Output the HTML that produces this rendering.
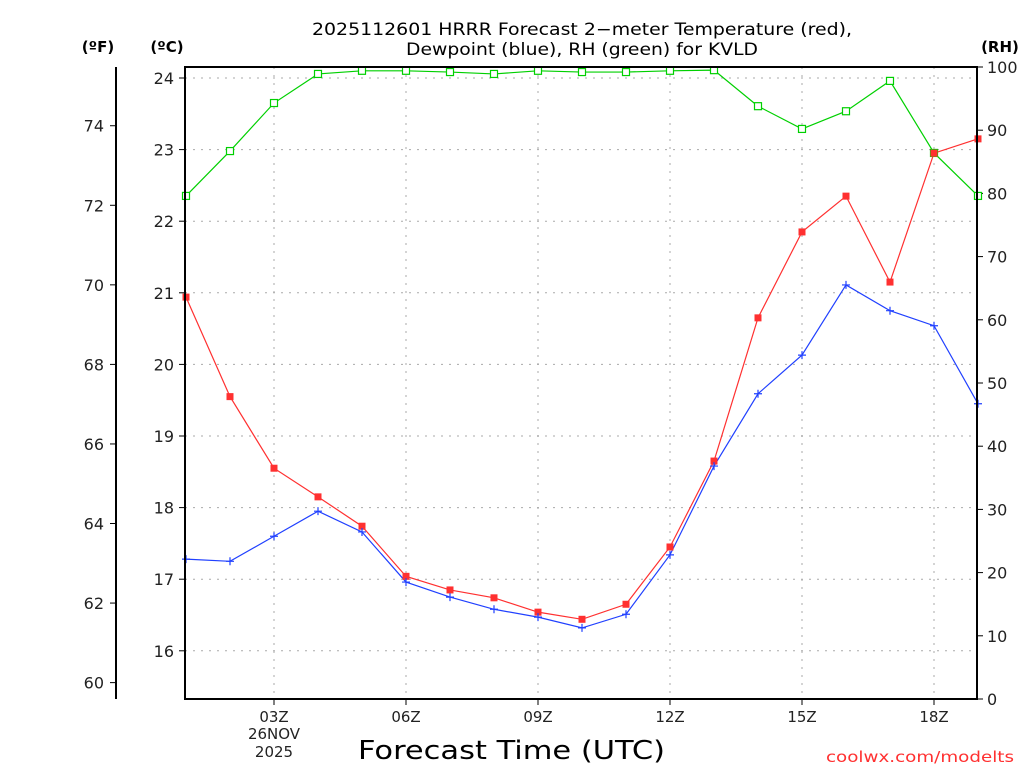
<!DOCTYPE html>
<html><head><meta charset="utf-8"><style>
body{margin:0;background:#fff;}
svg text{font-family:"DejaVu Sans","Liberation Sans",sans-serif;}
</style></head><body>
<svg id="chart" width="1024" height="768" xmlns="http://www.w3.org/2000/svg">
<rect width="1024" height="768" fill="#fff"/>
<text x="312" y="35" font-size="17" textLength="540" lengthAdjust="spacingAndGlyphs" fill="#000">2025112601 HRRR Forecast 2−meter Temperature (red),</text>
<text x="406" y="55" font-size="17" textLength="352" lengthAdjust="spacingAndGlyphs" fill="#000">Dewpoint (blue), RH (green) for KVLD</text>
<text x="98" y="52" font-size="15" font-weight="bold" text-anchor="middle">(ºF)</text>
<text x="167" y="52" font-size="15" font-weight="bold" text-anchor="middle">(ºC)</text>
<text x="1000" y="52" font-size="15" font-weight="bold" text-anchor="middle">(RH)</text>
<text x="358" y="759" font-size="26" textLength="307" lengthAdjust="spacingAndGlyphs">Forecast Time (UTC)</text>
<text x="826" y="762" font-size="15" textLength="188" lengthAdjust="spacingAndGlyphs" fill="#ff3030">coolwx.com/modelts</text>
<g id="grid"></g><g id="axes"></g><g id="series"></g>
<rect x="185" y="67" width="792" height="632" fill="none" stroke="#000" stroke-width="2"/>
</svg>
<script>
const hours=[1,2,3,4,5,6,7,8,9,10,11,12,13,14,15,16,17,18,19];
const tempC=[20.94,19.55,18.55,18.15,17.74,17.04,16.85,16.74,16.54,16.44,16.65,17.45,18.65,20.65,21.85,22.35,21.15,22.95,23.15];
const dewC=[17.28,17.25,17.6,17.95,17.66,16.96,16.75,16.58,16.47,16.32,16.51,17.34,18.58,19.59,20.13,21.11,20.75,20.54,19.45];
const rh=[79.6,86.7,94.3,98.9,99.4,99.4,99.2,98.9,99.4,99.2,99.2,99.4,99.5,93.8,90.2,93.0,97.8,86.4,79.6];
const cTicks=[16,17,18,19,20,21,22,23,24];
const fTicks=[60,62,64,66,68,70,72,74];
const rhTicks=[0,10,20,30,40,50,60,70,80,90,100];
const xTicks=[3,6,9,12,15,18];
const xLabels=["03Z","06Z","09Z","12Z","15Z","18Z"];
const NS="http://www.w3.org/2000/svg";
const X=h=>142+h*44;
const YC=c=>78+(24-c)*71.6;
const YF=f=>YC((f-32)/1.8);
const YR=r=>699-r*6.32;
function mk(p,t,a){const e=document.createElementNS(NS,t);for(const k in a)e.setAttribute(k,a[k]);p.appendChild(e);return e;}
const grid=document.getElementById('grid'),axes=document.getElementById('axes'),ser=document.getElementById('series');
cTicks.forEach(c=>{const y=YC(c);
 const g=mk(grid,'line',{x1:185,x2:977,y1:y,y2:y,stroke:'#aaa','stroke-dasharray':'2,6'});
 
 mk(axes,'line',{x1:179,x2:185,y1:y,y2:y,stroke:'#000'});
 const t=mk(axes,'text',{x:174,y:y+6,'font-size':16,'text-anchor':'end',fill:'#222'});t.textContent=c;
 });
xTicks.forEach((h,i)=>{const x=X(h);
 const g=mk(grid,'line',{x1:x,x2:x,y1:67,y2:699,stroke:'#aaa','stroke-dasharray':'2,6'});
 
 mk(axes,'line',{x1:x,x2:x,y1:699,y2:705,stroke:'#000'});
 const t=mk(axes,'text',{x:x,y:722,'font-size':15,'text-anchor':'middle',fill:'#222'});t.textContent=xLabels[i];
 });
[["26NOV",739],["2025",757]].forEach(d=>{const t=mk(axes,'text',{x:X(3),y:d[1],'font-size':15,'text-anchor':'middle',fill:'#222'});t.textContent=d[0];
 });
const fl=mk(axes,'line',{x1:116,x2:116,y1:67,y2:699,stroke:'#000','stroke-width':2});

fTicks.forEach(f=>{const y=YF(f);mk(axes,'line',{x1:110,x2:116,y1:y,y2:y,stroke:'#000'});
 const t=mk(axes,'text',{x:104,y:y+6,'font-size':16,'text-anchor':'end',fill:'#222'});t.textContent=f;
 });
rhTicks.forEach(r=>{const y=YR(r);mk(axes,'line',{x1:977,x2:983,y1:y,y2:y,stroke:'#000'});
 const t=mk(axes,'text',{x:987,y:y+6,'font-size':16,'text-anchor':'start',fill:'#222'});t.textContent=r;
 });
function line(vals,yf,col,name){const p=mk(ser,'polyline',{points:vals.map((v,i)=>X(hours[i])+','+yf(v)).join(' '),fill:'none',stroke:col,'stroke-width':1.2});
 }
line(rh,YR,'#00d000','rh-line');line(tempC,YC,'#ff3030','temperature-line');line(dewC,YC,'#2040ff','dewpoint-line');
rh.forEach((v,i)=>{const m=mk(ser,'rect',{x:X(hours[i])-3.5,y:YR(v)-3.5,width:7,height:7,fill:'#fff',stroke:'#00d000','stroke-width':1.2});
 });
tempC.forEach((v,i)=>{const m=mk(ser,'rect',{x:X(hours[i])-3.5,y:YC(v)-3.5,width:7,height:7,fill:'#ff3030'});
 });
dewC.forEach((v,i)=>{const x=X(hours[i]),y=YC(v);const m=mk(ser,'path',{d:`M${x-4},${y}H${x+4}M${x},${y-4}V${y+4}`,stroke:'#2040ff','stroke-width':1.2});
 });
</script>
</body></html>
